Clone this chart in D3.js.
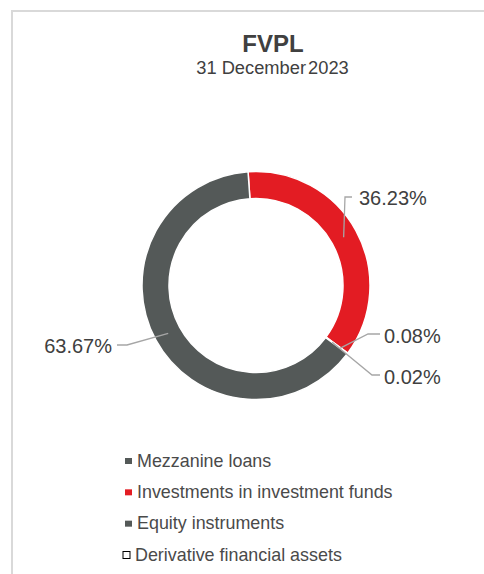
<!DOCTYPE html>
<html>
<head>
<meta charset="utf-8">
<script src="https://cdn.jsdelivr.net/npm/d3@7"></script>
<style>
  body { margin: 0; background: #fff; }
  svg { display: block; font-family: "Liberation Sans", Arial, sans-serif; }
</style>
</head>
<body>
<div id="chart"></div>
<script>
// data (clockwise from the top of the ring)
const categories = ['Investments in investment funds', 'Mezzanine loans', 'Derivative financial assets', 'Equity instruments'];
const shares = [36.23, 0.08, 0.02, 63.67];
const labels = ['36.23%', '0.08%', '0.02%', '63.67%'];
const legendOrder = ['Mezzanine loans', 'Investments in investment funds', 'Equity instruments', 'Derivative financial assets'];

const width = 484;
const height = 574;
const cx = 256, cy = 285.5;
const outerR = 114, innerR = 87;
const startDeg = -4;

const color = d3.scaleOrdinal()
  .domain(['Mezzanine loans', 'Investments in investment funds', 'Equity instruments', 'Derivative financial assets'])
  .range(['#545958', '#e31c23', '#545958', '#ffffff']);

const svg = d3.select('#chart')
  .append('svg')
  .attr('width', width)
  .attr('height', height);

// chart area border (top and left visible)
svg.append('path')
  .attr('d', `M12,${height + 2} V11 H${width + 2}`)
  .attr('fill', 'none')
  .attr('stroke', '#d9d9d9')
  .attr('stroke-width', 2);

// titles
svg.append('text')
  .attr('x', 273).attr('y', 52)
  .attr('text-anchor', 'middle')
  .attr('font-size', 24).attr('font-weight', 'bold')
  .attr('fill', '#404040')
  .text('FVPL');

const sub = svg.append('text')
  .attr('x', 272.5).attr('y', 74)
  .attr('text-anchor', 'middle')
  .attr('font-size', 18.3)
  .attr('fill', '#404040');
sub.append('tspan').text('31 December');
sub.append('tspan').attr('dx', -3).text(' 2023');

// donut
const pie = d3.pie()
  .value(d => d.v)
  .sort(null)
  .startAngle(startDeg * Math.PI / 180)
  .endAngle((startDeg + 360) * Math.PI / 180);

const arcs = pie(categories.map((c, i) => ({ c, v: shares[i], label: labels[i] })));

const arc = d3.arc().innerRadius(innerR).outerRadius(outerR);

const g = svg.append('g').attr('transform', `translate(${cx},${cy})`);

g.selectAll('path.slice')
  .data(arcs)
  .join('path')
  .attr('class', 'slice')
  .attr('d', arc)
  .attr('fill', d => color(d.data.c))
  .attr('stroke', '#ffffff')
  .attr('stroke-width', 1.5);

// leader lines + labels (manual placement like the original)
const labelLayout = [
  { r: 100, elbow: [345, 197], end: [352, 197], tx: 359, ty: 198, anchor: 'start' },
  { r: 105, elbow: [368, 334], end: [380, 334], tx: 384, ty: 336, anchor: 'start' },
  { r: 95, elbow: [372, 375], end: [380, 375], tx: 384, ty: 377, anchor: 'start' },
  { r: 100, elbow: [127, 345], end: [117, 345], tx: 112, ty: 346, anchor: 'end' }
];

arcs.forEach((d, i) => {
  const L = labelLayout[i];
  const a = (d.startAngle + d.endAngle) / 2;
  const px = cx + L.r * Math.sin(a);
  const py = cy - L.r * Math.cos(a);
  svg.append('polyline')
    .attr('points', [[px, py], L.elbow, L.end].map(p => p.join(',')).join(' '))
    .attr('fill', 'none')
    .attr('stroke', '#a6a6a6')
    .attr('stroke-width', 1.3);
  svg.append('text')
    .attr('x', L.tx).attr('y', L.ty)
    .attr('dy', '0.35em')
    .attr('text-anchor', L.anchor)
    .attr('font-size', 20)
    .attr('fill', '#404040')
    .text(d.data.label);
});

// legend
const legend = svg.append('g');
const rowY = d3.scalePoint().domain(legendOrder).range([461, 555]);

legendOrder.forEach(name => {
  const y = rowY(name);
  const outline = color(name) === '#ffffff';
  legend.append('rect')
    .attr('x', outline ? 123 : 125)
    .attr('y', outline ? y - 3.5 : y - 3)
    .attr('width', 7)
    .attr('height', outline ? 7 : 6)
    .attr('fill', color(name))
    .attr('stroke', outline ? '#000' : 'none')
    .attr('stroke-width', 1);
  legend.append('text')
    .attr('x', outline ? 135 : 137)
    .attr('y', y + 5.5)
    .attr('font-size', 17.9)
    .attr('fill', '#4a4a4a')
    .text(name);
});
</script>
</body>
</html>
